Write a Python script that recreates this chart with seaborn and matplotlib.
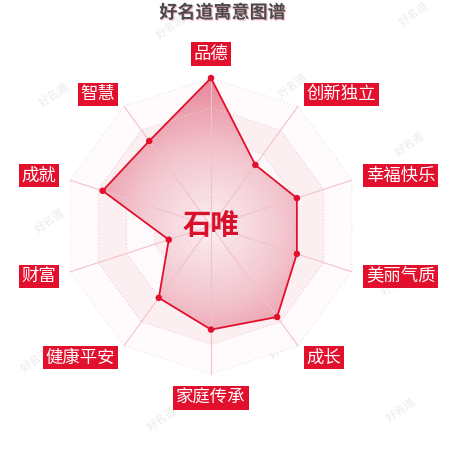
import numpy as np
import pandas as pd
import matplotlib
matplotlib.use("Agg")
import matplotlib.pyplot as plt
import matplotlib.patheffects as pe
from matplotlib.colors import LinearSegmentedColormap
from matplotlib.patches import Polygon
import seaborn as sns

# -----------------------------------
# DATA
# -----------------------------------

title = "好名道寓意图谱"
person = "石唯"
indicators = ["品德", "创新独立", "幸福快乐", "美丽气质", "成长",
              "家庭传承", "健康平安", "财富", "成就", "智慧"]
scores = [100, 51, 61, 61, 76, 70, 60, 30, 77, 71]
max_score = 100
levels = [20, 40, 60, 80, 100]

# -----------------------------------
# STYLE
# -----------------------------------

sns.set_theme(style="white")
plt.rcParams["font.family"] = ["Noto Sans CJK SC", "DejaVu Sans"]

RED = "#e3102d"
AXIS_PINK = "#f2c2cb"

n = len(indicators)
theta = np.arange(n) * 2 * np.pi / n

df = pd.DataFrame({"name": indicators, "score": scores, "theta": theta})
df["x"] = df["score"] * np.sin(df["theta"])
df["y"] = df["score"] * np.cos(df["theta"])

# -----------------------------------
# FIGURE
# -----------------------------------

fig = plt.figure(figsize=(4.5, 4.5), dpi=100)
ax = fig.add_axes([0, 0, 1, 1])
u = max_score / 148  # data units per pixel

# watermarks (behind everything in the chart)
wm_pos = [(0.38, 0.94), (0.92, 0.97), (0.12, 0.79), (0.65, 0.81), (0.91, 0.68),
          (0.11, 0.51), (0.88, 0.37), (0.08, 0.20), (0.63, 0.23), (0.36, 0.07),
          (0.89, 0.09)]
for wx, wy in wm_pos:
    ax.text(wx, wy, "好名道", ha="center", va="center", color="#ebebeb",
            fontsize=8, rotation=35, zorder=0.5, transform=ax.transAxes)

# split areas (outer first, inner painted over)
band_colors = ["#fffbfc", "#fcedf0", "#fffbfc", "#fcedf0", "#fffbfc"]
for lv, col in zip(levels[::-1], band_colors):
    ring = np.column_stack([lv * np.sin(theta), lv * np.cos(theta)])
    ax.add_patch(Polygon(ring, closed=True, facecolor=col, edgecolor="none",
                         alpha=0.85, zorder=1))

# polygon with radial gradient
poly_xy = df[["x", "y"]].to_numpy()
patch = Polygon(poly_xy, closed=True, facecolor="none", edgecolor="none", zorder=3)
ax.add_patch(patch)
g = np.linspace(-max_score, max_score, 400)
GX, GY = np.meshgrid(g, g)
cmap = LinearSegmentedColormap.from_list("fill", ["#fbf0f2", "#f3c6cf", "#e8879a"])
im = ax.imshow(np.hypot(GX, GY) / max_score, cmap=cmap, vmin=0, vmax=1,
               extent=(-max_score, max_score, -max_score, max_score),
               origin="lower", interpolation="bilinear", zorder=3)
im.set_clip_path(patch)

# grid rings
for lv in levels:
    ring = np.column_stack([lv * np.sin(theta), lv * np.cos(theta)])
    ring = np.vstack([ring, ring[:1]])
    col = "#e6e6e6" if lv == max_score else "#f2ccd3"
    ax.plot(ring[:, 0], ring[:, 1], ls=(0, (1, 2)), lw=0.8, color=col, zorder=4)

# axis lines
for t in theta:
    ax.plot([0, max_score * np.sin(t)], [0, max_score * np.cos(t)],
            color=AXIS_PINK, lw=0.8, zorder=4)

# edge and points
closed = pd.concat([df, df.iloc[:1]], ignore_index=True)
sns.lineplot(data=closed, x="x", y="y", sort=False, estimator=None,
             color=RED, lw=1.3, ax=ax, zorder=5)
sns.scatterplot(data=df, x="x", y="y", color=RED, s=22, edgecolor="none",
                ax=ax, zorder=6)

# indicator labels
for name, t in zip(indicators, theta):
    s, c = np.sin(t), np.cos(t)
    r = max_score * 1.1
    ha = "center" if abs(s) < 0.01 else ("left" if s > 0 else "right")
    va = "bottom" if c > 0.99 else ("top" if c < -0.99 else "center")
    ax.text(r * s, r * c, name, ha=ha, va=va, color="white", fontsize=12.5,
            zorder=7,
            bbox=dict(boxstyle="square,pad=0.16", fc=RED, ec="none"))

# center name
ax.text(0, 0, person, ha="center", va="center", color="#d8102c",
        fontsize=20.5, fontweight="bold", zorder=8)

# title
fig.text(0.494, 0.972, title, ha="center", va="center", color="#4a4a4a",
         fontsize=13, fontweight="bold",
         path_effects=[pe.withSimplePatchShadow(offset=(0.8, -0.8),
                                                shadow_rgbFace="#f19aab", alpha=0.7)])

ax.set_xlim(-211 * u, 239 * u)
ax.set_ylim(-224 * u, 226 * u)
ax.set_aspect("equal")
ax.axis("off")

fig.savefig("out.png", dpi=100)
